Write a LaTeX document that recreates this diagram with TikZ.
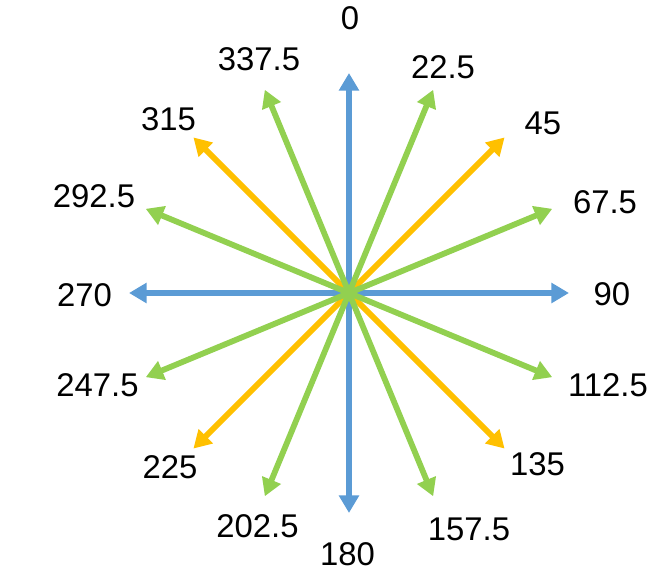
\documentclass[tikz,border=0pt]{standalone}
\usepackage{xcolor}
\usepackage{fontspec}
\setmainfont{Liberation Sans}
\usepackage{tikz}
\usetikzlibrary{arrows.meta}
\definecolor{dirblue}{HTML}{5B9BD5}
\definecolor{dirgreen}{HTML}{92D050}
\definecolor{dirorange}{HTML}{FFC000}

\begin{document}
\begin{tikzpicture}[
        x=0.02cm, y=0.02cm,
        ray/.style={-{Triangle[length=10pt, width=11pt]}, line width=3.3pt},
        mainray/.style={ray, color=dirblue},
        halfray/.style={ray, color=dirorange},
        quarterray/.style={ray, color=dirgreen},
        lbl/.style={inner sep=0pt, font=\fontsize{18.7}{22}\selectfont}
      ]
        \useasboundingbox (-349,-293) rectangle (314,293);
        \coordinate (o) at (0,0);
        % arrow ends, named after the bearing
        \coordinate (e0)   at (90:220);
        \coordinate (e22)  at (67.5:220);
        \coordinate (e45)  at (45:220);
        \coordinate (e67)  at (22.5:220);
        \coordinate (e90)  at (0:220);
        \coordinate (e112) at (-22.5:220);
        \coordinate (e135) at (-45:220);
        \coordinate (e157) at (-67.5:220);
        \coordinate (e180) at (-90:220);
        \coordinate (e202) at (-112.5:220);
        \coordinate (e225) at (-135:220);
        \coordinate (e247) at (-157.5:220);
        \coordinate (e270) at (180:220);
        \coordinate (e292) at (157.5:220);
        \coordinate (e315) at (135:220);
        \coordinate (e337) at (112.5:220);

        \draw[mainray] (o) -- (e0);
        \draw[mainray] (o) -- (e90);
        \draw[mainray] (o) -- (e180);
        \draw[mainray] (o) -- (e270);

        \draw[halfray] (o) -- (e45);
        \draw[halfray] (o) -- (e135);
        \draw[halfray] (o) -- (e225);
        \draw[halfray] (o) -- (e315);

        \draw[quarterray] (o) -- (e22);
        \draw[quarterray] (o) -- (e67);
        \draw[quarterray] (o) -- (e112);
        \draw[quarterray] (o) -- (e157);
        \draw[quarterray] (o) -- (e202);
        \draw[quarterray] (o) -- (e247);
        \draw[quarterray] (o) -- (e292);
        \draw[quarterray] (o) -- (e337);

        % bearings
        \node[lbl] (l0)   at (1,274.5)      {0};
        \node[lbl] (l22)  at (94,226)       {22.5};
        \node[lbl] (l45)  at (194,170)      {45};
        \node[lbl] (l67)  at (256,90.5)     {67.5};
        \node[lbl] (l90)  at (263,-1)       {90};
        \node[lbl] (l112) at (259,-92.5)    {112.5};
        \node[lbl] (l135) at (188.5,-171)   {135};
        \node[lbl] (l157) at (120,-236.5)   {157.5};
        \node[lbl] (l180) at (-1.5,-261)    {180};
        \node[lbl] (l202) at (-91.5,-233)   {202.5};
        \node[lbl] (l225) at (-179,-174)    {225};
        \node[lbl] (l247) at (-251.5,-92.5) {247.5};
        \node[lbl] (l270) at (-264.5,-2)    {270};
        \node[lbl] (l292) at (-255,96.5)    {292.5};
        \node[lbl] (l315) at (-180.5,173.5) {315};
        \node[lbl] (l337) at (-90,233.5)    {337.5};
      \end{tikzpicture}
\end{document}
